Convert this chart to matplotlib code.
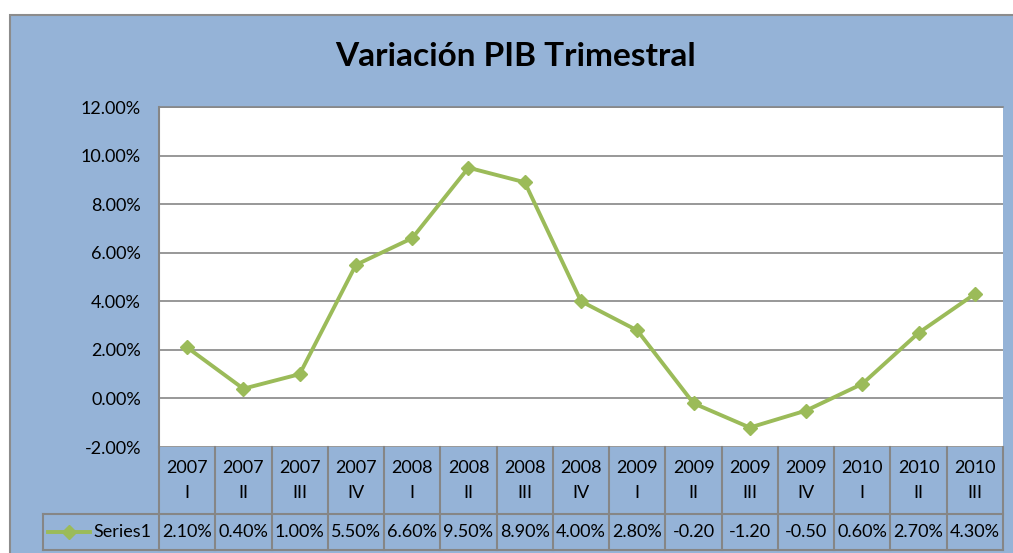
import matplotlib
matplotlib.use("Agg")
import matplotlib.pyplot as plt
from matplotlib.patches import Rectangle
from matplotlib.ticker import FuncFormatter

plt.rcParams['font.family'] = ['Lato', 'DejaVu Sans']

# data
years = ['2007', '2007', '2007', '2007', '2008', '2008', '2008', '2008',
         '2009', '2009', '2009', '2009', '2010', '2010', '2010']
quarters = ['I', 'II', 'III', 'IV', 'I', 'II', 'III', 'IV',
            'I', 'II', 'III', 'IV', 'I', 'II', 'III']
values = [2.10, 0.40, 1.00, 5.50, 6.60, 9.50, 8.90, 4.00,
          2.80, -0.20, -1.20, -0.50, 0.60, 2.70, 4.30]
value_labels = ['2.10%', '0.40%', '1.00%', '5.50%', '6.60%', '9.50%', '8.90%', '4.00%',
                '2.80%', '-0.20', '-1.20', '-0.50', '0.60%', '2.70%', '4.30%']

W, H = 1013, 553
blue = '#95B3D7'
green = '#9BBB59'
gray = '#868686'
fs = 13

fig = plt.figure(figsize=(W / 100, H / 100), dpi=100)
fig.patch.set_facecolor('white')

# chart area background
fig.patches.append(Rectangle((10 / W, -0.1), 1.1, (H - 15) / H + 0.1,
                             transform=fig.transFigure, facecolor=blue,
                             edgecolor='#8C8C8C', linewidth=1.5, zorder=-5))

fig.text(516 / W, 1 - 57 / H, 'Variación PIB Trimestral', ha='center', va='center',
         fontsize=24, fontweight='bold', color='black')

# plot area
x0, x1 = 159, 1003
y_top, y_bot = 107, 447
ax = fig.add_axes([x0 / W, (H - y_bot) / H, (x1 - x0) / W, (y_bot - y_top) / H])
ax.set_facecolor('white')
n = len(values)
xs = list(range(n))
ax.plot(xs, values, color=green, linewidth=2.8, marker='D', markersize=7.5,
        markerfacecolor=green, markeredgecolor=green, zorder=3)
ax.set_xlim(-0.5, n - 0.5)
ax.set_ylim(-2, 12)
ax.set_yticks(range(-2, 13, 2))
ax.yaxis.set_major_formatter(FuncFormatter(lambda v, p: '{:.2f}%'.format(v)))
ax.tick_params(axis='y', length=0, labelsize=fs, pad=13)
ax.set_xticks([])
ax.grid(axis='y', color=gray, linewidth=1.2)
ax.set_axisbelow(True)
for s in ['right', 'bottom']:
    ax.spines[s].set_visible(False)
ax.spines['left'].set_color(gray)
ax.spines['left'].set_linewidth(1.5)
ax.spines['top'].set_color(gray)
ax.spines['top'].set_linewidth(1.2)

# data table below the plot
t_left, t_bot = 43, 550
unit = (x1 - x0) / n
tax = fig.add_axes([t_left / W, (H - t_bot) / H, (x1 - t_left) / W, (t_bot - y_bot) / H])
tax.set_xlim(-0.5 - (x0 - t_left) / unit, n - 0.5)
tax.set_ylim(0, t_bot - y_bot)
tax.axis('off')
row_h = t_bot - 514
top = t_bot - y_bot
lk = dict(color=gray, linewidth=1.5, clip_on=False)
tax.plot([-0.5 - (x0 - t_left) / unit, n - 0.5], [row_h, row_h], **lk)
tax.plot([-0.5 - (x0 - t_left) / unit, n - 0.5], [0, 0], **lk)
tax.plot([-0.5 - (x0 - t_left) / unit] * 2, [0, row_h], **lk)
for i in range(n + 1):
    tax.plot([i - 0.5, i - 0.5], [0, top], **lk)
for i in range(n):
    tax.text(i, top - 21, years[i], ha='center', va='center', fontsize=fs)
    tax.text(i, top - 46, quarters[i], ha='center', va='center', fontsize=fs)
    tax.text(i, row_h / 2, value_labels[i], ha='center', va='center', fontsize=fs)

# legend key inside the table
lx = -0.5 - (x0 - t_left) / unit
tax.plot([lx + 5 / unit, lx + 47 / unit], [row_h / 2, row_h / 2], color=green,
         linewidth=2.8, clip_on=False)
tax.plot([lx + 26 / unit], [row_h / 2], color=green, marker='D', markersize=7.5)
tax.text(lx + 50 / unit, row_h / 2, 'Series1', ha='left', va='center', fontsize=fs)

fig.savefig('out.png', dpi=100)
